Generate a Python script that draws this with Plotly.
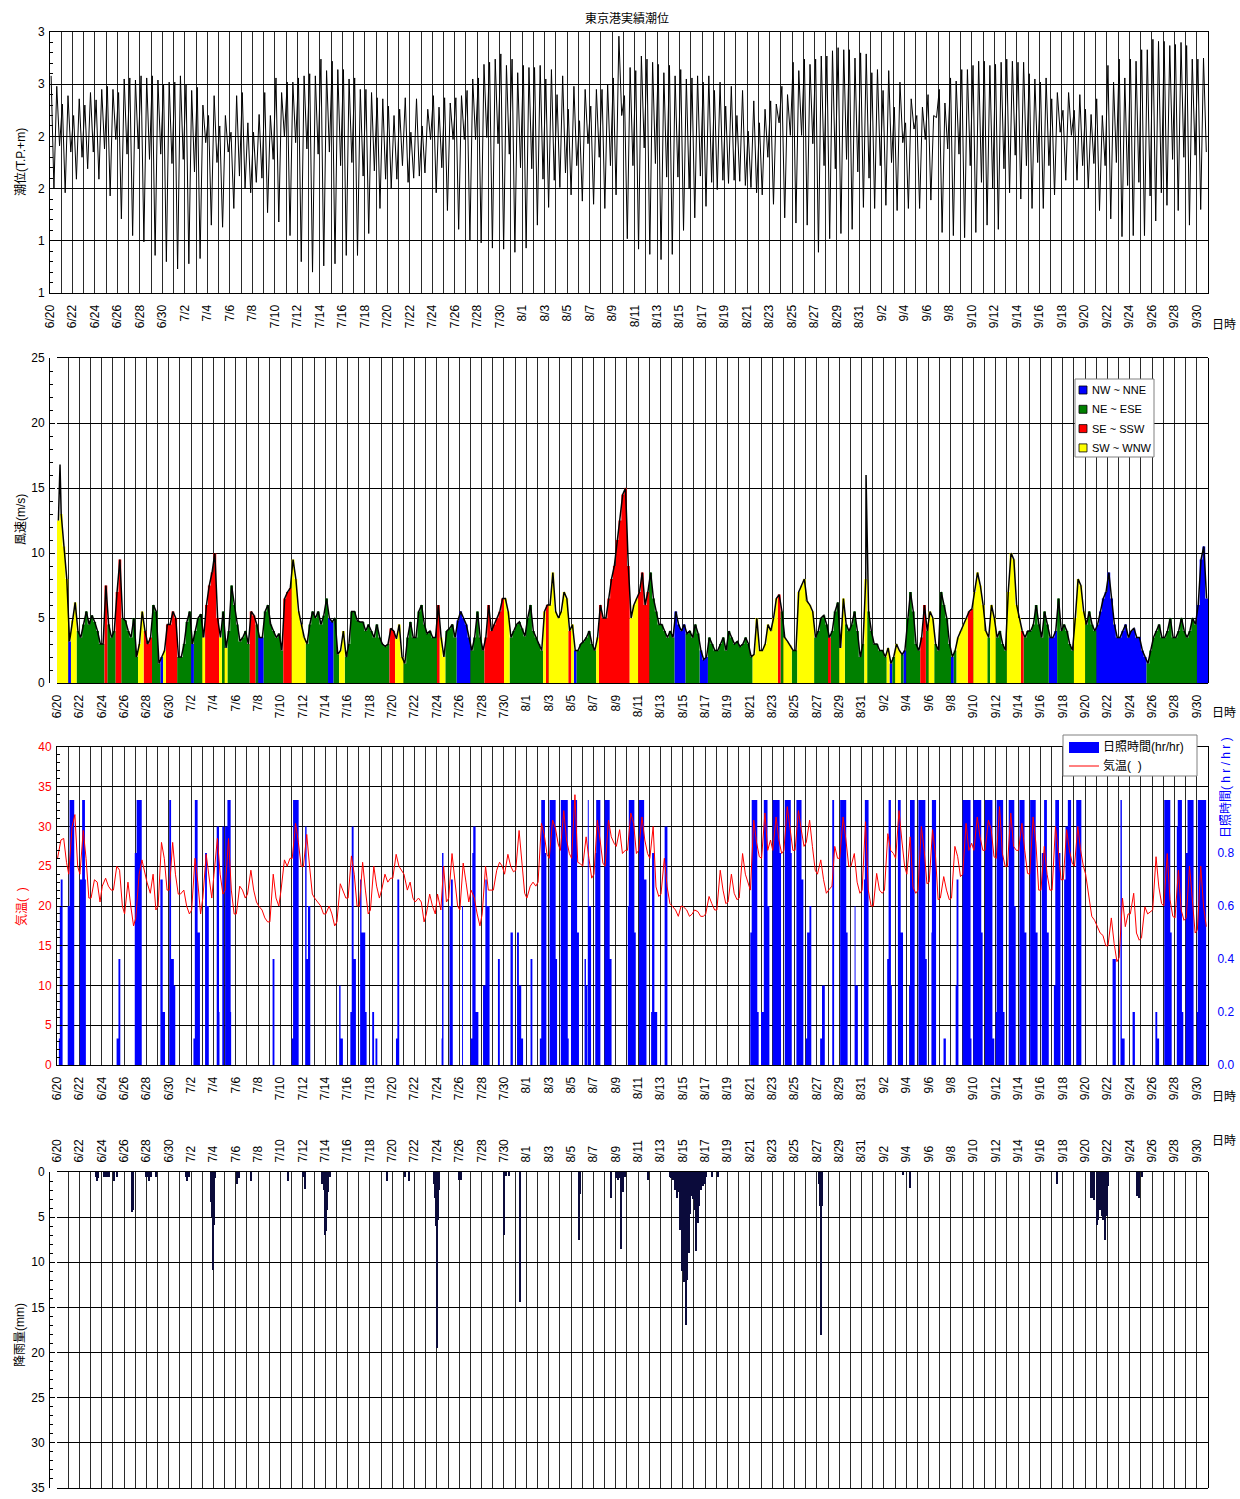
import plotly.graph_objects as go

W, H = 1240, 1499
FONT = "Liberation Sans, Arial, Noto Sans CJK JP, sans-serif"
GRID = "#2a2a2a"

# ---------------- tick labels (x axis: days since 6/20 00:00) ----------------
tick_days = list(range(0, 103, 2))
tick_labels = ["6/20", "6/22", "6/24", "6/26", "6/28", "6/30", "7/2", "7/4", "7/6", "7/8",
               "7/10", "7/12", "7/14", "7/16", "7/18", "7/20", "7/22", "7/24", "7/26", "7/28",
               "7/30", "8/1", "8/3", "8/5", "8/7", "8/9", "8/11", "8/13", "8/15", "8/17",
               "8/19", "8/21", "8/23", "8/25", "8/27", "8/29", "8/31", "9/2", "9/4", "9/6",
               "9/8", "9/10", "9/12", "9/14", "9/16", "9/18", "9/20", "9/22", "9/24", "9/26",
               "9/28", "9/30"]
tide_tickvals = [0.5, 1.0, 1.5, 2.0, 2.5, 3.0]
tide_ticktext = ["1", "1", "2", "2", "3", "3"]

# ---------------- tide (T.P.+m): daily turning points ----------------
tide_high1 = [
    2.58, 2.31, 2.20, 2.30, 2.35, 2.48, 2.42, 2.56, 2.58, 2.58,
    2.50, 2.52, 2.50, 2.47, 2.20, 2.10, 2.04, 2.42, 2.04, 2.42,
    2.56, 2.52, 2.56, 2.60, 2.74, 2.72, 2.64, 2.56, 2.45, 2.37,
    2.29, 2.26, 2.04, 2.10, 2.39, 2.37, 2.37, 2.44, 2.56, 2.71,
    2.79, 2.74, 2.68, 2.66, 2.55, 2.40, 2.26, 2.15, 2.29, 2.45,
    2.56, 2.39, 2.63, 2.74, 2.69, 2.68, 2.64, 2.56, 2.52, 2.44,
    2.29, 2.20, 2.05, 2.13, 2.34, 2.48, 2.71, 2.74, 2.74, 2.77,
    2.85, 2.83, 2.80, 2.61, 2.44, 2.28, 2.13, 2.20, 2.40, 2.45,
    2.56, 2.64, 2.68, 2.72, 2.69, 2.74, 2.71, 2.60, 2.52, 2.36,
    2.25, 2.25, 2.26, 2.36, 2.68, 2.74, 2.74, 2.83, 2.93, 2.91,
    2.88, 2.87, 2.74]
tide_low_deep = [
    1.50, 1.46, 1.59, 1.69, 1.59, 1.43, 1.21, 1.05, 0.99, 0.86,
    0.80, 0.73, 0.78, 0.83, 1.15, 1.13, 1.31, 1.50, 1.56, 1.27,
    1.18, 1.05, 0.80, 0.70, 0.76, 0.78, 0.86, 0.86, 1.07, 1.31,
    1.50, 1.72, 1.60, 1.65, 1.46, 1.29, 1.11, 1.00, 0.98, 0.93,
    0.92, 0.89, 0.93, 1.15, 1.32, 1.51, 1.44, 1.38, 1.35, 1.31,
    1.44, 1.02, 0.92, 0.87, 0.82, 0.87, 1.10, 1.22, 1.33, 1.49,
    1.55, 1.57, 1.51, 1.44, 1.35, 1.22, 1.17, 1.15, 0.89, 1.02,
    1.07, 1.11, 1.32, 1.31, 1.34, 1.29, 1.31, 1.31, 1.39, 1.08,
    1.05, 1.03, 1.08, 1.15, 1.11, 1.46, 1.40, 1.31, 1.31, 1.44,
    1.58, 1.58, 1.50, 1.29, 1.21, 1.04, 1.05, 1.05, 1.19, 1.34,
    1.29, 1.15, 1.30]
tide_high2 = [
    2.48, 2.39, 2.36, 2.42, 2.45, 2.45, 2.55, 2.54, 2.56, 2.54,
    2.52, 2.58, 2.44, 2.30, 2.39, 2.20, 2.39, 2.13, 2.21, 2.20,
    2.42, 2.52, 2.58, 2.58, 2.63, 2.64, 2.55, 2.45, 2.42, 2.36,
    2.20, 2.37, 2.36, 2.26, 2.28, 2.32, 2.39, 2.55, 2.69, 2.74,
    2.68, 2.61, 2.66, 2.68, 2.64, 2.58, 2.48, 2.45, 2.45, 2.50,
    2.96, 2.66, 2.77, 2.71, 2.61, 2.58, 2.55, 2.58, 2.58, 2.52,
    2.48, 2.44, 2.34, 2.26, 2.31, 2.40, 2.63, 2.69, 2.77, 2.82,
    2.83, 2.75, 2.79, 2.64, 2.63, 2.52, 2.36, 2.28, 2.20, 2.32,
    2.53, 2.64, 2.72, 2.68, 2.71, 2.72, 2.71, 2.55, 2.56, 2.42,
    2.42, 2.40, 2.21, 2.20, 2.52, 2.56, 2.72, 2.83, 2.91, 2.87,
    2.90, 2.74, 2.75]
tide_low_shallow = [
    1.91, 1.85, 1.80, 1.85, 1.88, 1.97, 1.83, 1.88, 1.78, 1.83,
    1.74, 1.78, 1.66, 1.94, 1.75, 1.85, 1.62, 1.46, 1.60, 1.78,
    2.00, 1.94, 1.88, 1.83, 1.85, 1.72, 1.75, 1.62, 1.67, 1.59,
    1.59, 1.56, 1.62, 1.97, 1.70, 1.97, 1.97, 1.97, 1.99, 1.93,
    1.83, 1.70, 1.69, 1.59, 1.58, 1.65, 1.72, 1.93, 1.80, 1.72,
    2.20, 1.72, 1.89, 1.74, 1.61, 1.61, 1.50, 1.62, 1.56, 1.58,
    1.58, 1.53, 1.46, 1.80, 2.13, 2.01, 2.01, 1.93, 1.72, 1.69,
    1.78, 1.66, 1.60, 1.72, 1.75, 1.94, 2.07, 1.97, 2.18, 1.88,
    1.83, 1.72, 1.56, 1.50, 1.69, 1.82, 1.72, 1.75, 1.72, 2.04,
    2.01, 1.72, 1.74, 1.72, 1.75, 1.53, 1.56, 1.43, 1.46, 1.78,
    1.80, 1.82, 1.85]
tide_hours = [2.4, 8.4, 14.4, 20.4]   # hour of each turning point in the day

# ---------------- wind speed (m/s), 6-hourly, and direction class ----------------
wind_speed = [
    [12.5, 13, 10.5, 8], [3.2, 4.8, 6.2, 4.0], [3.5, 4.5, 5.5, 4.5], [5.2, 4.7, 4.0, 3.0], [3.0, 7.5, 4.5, 3.5],
    [4.0, 7.0, 9.5, 5.0], [4.8, 4.0, 3.5, 5.0], [2.0, 3.0, 5.5, 4.0], [3.0, 3.5, 6.0, 5.5], [1.5, 2.0, 2.5, 4.5],
    [4.5, 5.5, 5.0, 2.0], [2.0, 3.0, 4.7, 5.5], [3.0, 4.0, 5.0, 5.3], [3.5, 6.0, 7.5, 8.5], [10.0, 5.0, 3.5, 5.5],
    [2.7, 4.0, 7.5, 6.0], [4.5, 3.2, 3.5, 4.0], [3.0, 5.5, 5.2, 4.5], [3.5, 3.5, 5.5, 6.0], [4.5, 4.0, 3.5, 3.8],
    [2.5, 6.5, 7.0, 7.3], [9.5, 8.0, 5.5, 4.5], [3.5, 3.0, 4.5, 5.5], [5.0, 5.5, 4.5, 5.2], [6.5, 5.0, 4.7, 5.0],
    [2.2, 2.5, 4.0, 2.0], [3.0, 5.5, 5.5, 4.8], [4.7, 4.7, 4.0, 4.5], [4.0, 3.5, 4.5, 3.5], [3.0, 2.8, 3.0, 4.2],
    [4.0, 3.4, 4.5, 2.0], [1.5, 3.5, 4.7, 3.5], [3.5, 5.5, 6.0, 4.5], [3.8, 4.0, 3.5, 3.5], [6.0, 3.5, 2.0, 4.0],
    [4.2, 4.5, 3.5, 4.8], [5.5, 5.0, 4.5, 3.5], [2.5, 3.5, 5.5, 3.5], [2.5, 3.5, 6.0, 4.0], [4.5, 5.0, 5.5, 6.5],
    [6.5, 5.5, 3.5, 4.0], [4.5, 4.7, 4.2, 3.6], [5.0, 6.0, 4.0, 3.5], [3.0, 2.5, 5.5, 6.0], [6.0, 8.5, 5.5, 5.0],
    [5.5, 7.0, 6.5, 4.0], [4.5, 2.5, 2.5, 3.0], [3.2, 3.5, 4.0, 3.0], [2.5, 3.5, 6.0, 5.0], [5.0, 6.5, 8.0, 9.0],
    [11.0, 12.5, 14.5, 15.0], [9.0, 5.0, 6.0, 6.5], [7.0, 8.5, 6.0, 7.0], [8.5, 6.5, 5.5, 4.5], [4.5, 4.0, 3.5, 4.0],
    [3.5, 5.5, 4.5, 4.0], [4.5, 3.8, 4.0, 3.5], [4.5, 3.8, 2.5, 1.8], [2.0, 3.5, 3.0, 2.5], [2.5, 3.0, 3.5, 2.5],
    [4.0, 3.5, 3.0, 3.2], [2.8, 3.0, 3.5, 3.0], [2.0, 2.2, 5.0, 2.5], [2.5, 3.0, 4.5, 4.0], [5.0, 6.5, 6.8, 5.5],
    [3.5, 3.2, 2.9, 2.5], [2.5, 7.0, 7.5, 8.0], [6.3, 6.0, 5.5, 3.5], [4.0, 5.0, 5.2, 4.5], [3.5, 4.0, 5.5, 6.2],
    [2.7, 6.5, 4.5, 4.0], [4.5, 5.5, 4.0, 2.0], [3.0, 8.0, 5.5, 4.0], [3.0, 3.0, 2.5, 2.5], [2.0, 2.7, 1.5, 2.0],
    [3.0, 2.5, 2.2, 2.5], [5.0, 7.0, 5.5, 3.0], [2.5, 3.5, 6.0, 4.0], [5.5, 5.0, 3.0, 2.5], [7.0, 6.0, 5.0, 3.0],
    [2.0, 2.5, 3.5, 4.0], [4.5, 5.0, 5.5, 5.7], [7.0, 8.5, 7.5, 6.0], [4.0, 3.5, 6.0, 5.0], [3.5, 4.0, 3.0, 2.5],
    [7.0, 10.0, 9.5, 6.0], [5.0, 4.0, 3.5, 4.0], [4.0, 4.5, 6.0, 4.5], [3.5, 5.5, 4.5, 3.5], [3.5, 4.0, 6.5, 4.0],
    [4.5, 4.0, 3.0, 2.5], [5.0, 8.0, 7.5, 5.5], [4.5, 5.5, 4.5, 4.0], [4.5, 5.5, 6.5, 7.0], [8.5, 6.5, 4.5, 3.5],
    [3.5, 4.0, 4.5, 3.5], [4.0, 4.2, 3.5, 3.5], [2.5, 2.0, 1.5, 2.5], [3.5, 4.0, 4.5, 3.5], [3.5, 4.0, 5.0, 3.5],
    [3.5, 4.0, 5.0, 4.0], [3.5, 4.0, 5.0, 4.5], [6.0, 9.5, 10.5, 6.5]]
wind_dir = [
    "YYYY", "BYYG", "GGGG", "GGGG", "GRGG", "GRRG", "GGGG", "GYYR", "RRGG", "GBYR",
    "RRRG", "GGGG", "BGGG", "YRRR", "RRYG", "YGGG", "GGGG", "GRRG", "BBGG", "GGGG",
    "GRRR", "YYYY", "YGGG", "GGGG", "GBBG", "GYYG", "GGGG", "GGGG", "GGGG", "GGGR",
    "RYYY", "GGGG", "GGGG", "GGGG", "RYYG", "GGGB", "BBBB", "GGGG", "GRRR", "RRRR",
    "YYGG", "GGGG", "GGGG", "GGYR", "YYYY", "YYYR", "YBGG", "GGGG", "GYRR", "RRRR",
    "RRRR", "RYYY", "RRRR", "GGGG", "GGGG", "GBBB", "BGGG", "GGBB", "BGGG", "GGGG",
    "GGGG", "GGGG", "GYYY", "YYYY", "YYRG", "YYYG", "GYYY", "YYYG", "GGGG", "RGGG",
    "YYGG", "GGGG", "GYGG", "GGGG", "GYBG", "YYGB", "GGGG", "GRRG", "YYGG", "GGGG",
    "BGYY", "YYRR", "YYYY", "YGYY", "GGGG", "YYYY", "YRGG", "GGGG", "GGGB", "BBGG",
    "GGGG", "YYYY", "GGGG", "BBBB", "BBBB", "BBBB", "BBBB", "BBGG", "GGGG", "GGGG",
    "GGGG", "GGGG", "BBBB"]
wind_spike_day = [0.27, 72.4]
wind_spike_speed = [16.8, 16.0]
wind_classes = [("B", "NW ~ NNE", "#0000FF"), ("G", "NE ~ ESE", "#008000"),
                ("R", "SE ~ SSW", "#FF0000"), ("Y", "SW ~ WNW", "#FFFF00")]

# ---------------- air temperature (deg C), 4 readings per day ----------------
temp = [
    [26, 28.3, 28.5, 25.5], [24, 30, 31.5, 25], [24, 29.5, 26, 21], [21, 23.3, 23, 20.5], [22.5, 23.5, 22.5, 22],
    [22, 25, 24.5, 20], [19, 23, 20, 17.5], [18.5, 24, 25.8, 24], [23, 21.6, 24, 19.5], [20, 28, 26, 22],
    [22, 28, 24, 21.5], [21.5, 22, 20, 19], [19.5, 26, 23, 19], [21, 26.5, 24, 21], [24, 28.5, 24, 21.5],
    [22, 28.5, 22, 19], [19, 22.5, 22, 21], [21.5, 24.5, 22, 20.5], [20, 19.5, 18.5, 18], [18, 24, 21, 20],
    [22, 25.8, 25, 26], [26, 30.4, 28, 25], [25, 29, 25, 21.5], [21, 20.5, 20, 19], [19, 20, 19, 17.5],
    [18, 22.8, 22, 21], [21, 26.3, 24, 20], [20, 25.5, 22, 19], [19.5, 25, 22.5, 21], [22, 24, 23, 23.5],
    [23.5, 26.5, 25, 24.5], [24, 22, 23, 21], [20.5, 21, 20.5, 18], [19, 21.5, 20, 19], [21.5, 19.5, 25, 20.5],
    [21, 26.6, 23.5, 20], [19.5, 25.4, 23, 20.5], [22, 21, 19, 17.5], [19, 25, 22, 22], [22, 24.5, 25.5, 25],
    [24, 26.5, 25, 24.3], [24.5, 29.5, 26, 21.6], [21, 22.5, 23, 22.5], [23, 30.4, 29, 26.5], [26, 30.8, 29.8, 27.8],
    [27, 32, 28.3, 26.6], [26, 34, 25.5, 25.3], [25, 28.7, 26, 23.5], [24, 30.8, 28.3, 25.4], [25, 30.8, 28.7, 27.9],
    [27.5, 29.6, 26.6, 27], [27, 31.7, 30.4, 26.6], [27, 31.2, 28.3, 26.6], [26, 30, 22.4, 21.2], [21.5, 26, 22.4, 20.3],
    [20, 19.5, 18.7, 20], [19.9, 19.5, 18.7, 19], [19.5, 19.3, 18.7, 18.7], [19, 21.2, 20.3, 19.5], [19.5, 24.5, 22, 20.3],
    [20.5, 24, 21.6, 20.8], [21, 26.6, 24, 22.8], [22, 30.8, 28, 26.2], [26, 31.7, 27, 28.3], [27, 31.2, 28.3, 26.6],
    [27, 32.5, 29.6, 27], [27, 32, 29.6, 27.5], [28, 30.8, 27.5, 24.5], [24, 25.8, 23.3, 21.6], [22, 22.5, 27.5, 26],
    [26, 31.2, 28.3, 25], [25, 26.6, 23, 21.6], [22, 30.6, 22, 20], [20, 24.1, 22, 21.6], [22, 29.1, 27, 26.6],
    [26, 32, 28.3, 25], [24, 28.7, 22.4, 21.6], [22, 30, 27, 22.8], [23, 29.6, 26.6, 20.8], [21, 23.7, 22, 20.8],
    [21, 27.5, 26.2, 23.7], [24, 30.4, 27, 27.9], [27, 31.2, 28.7, 27], [27, 30.8, 29.6, 26.2], [26, 32.5, 26.6, 25],
    [25, 31.7, 27.5, 27], [27, 30.4, 27, 24.1], [24, 31.2, 27.9, 22], [22, 27.5, 24, 22], [22, 30, 27, 23.3],
    [23.3, 29.6, 27, 25.4], [25, 30, 27, 25], [24, 21.2, 18.7, 18.2], [17.5, 16.6, 16.3, 15], [15, 18.5, 15.3, 13],
    [13.5, 21, 17.4, 19], [19, 21.6, 16.6, 15.7], [16, 19.9, 19, 19.3], [19.5, 26.2, 22.4, 20.3], [20, 26.6, 20.8, 18.7],
    [18.5, 24.5, 19.5, 18.2], [18.5, 25, 20.3, 16.6], [17, 25, 20, 17.4]]
temp_hours = [1.2, 8.4, 14.4, 20.4]

# ---------------- sunshine (hr/hr): (day, first hour, last hour, tenths) ----------------
sun_segments = [
    (0, 4, 5, 1), (0, 6, 7, 6), (0, 8, 11, 7), (0, 23, 23, 6), (1, 0, 2, 6), (1, 3, 12, 10),
    (2, 1, 5, 7), (2, 6, 11, 10), (2, 12, 13, 7), (5, 8, 11, 1), (5, 12, 15, 4), (6, 23, 23, 8),
    (7, 0, 2, 8), (7, 3, 13, 10), (9, 6, 10, 7), (9, 11, 15, 2), (10, 1, 4, 10), (10, 5, 10, 4),
    (10, 11, 13, 3), (12, 5, 7, 1), (12, 8, 13, 10), (12, 14, 18, 5), (13, 6, 9, 8), (13, 10, 13, 6),
    (14, 7, 11, 9), (14, 12, 12, 2), (14, 19, 22, 9), (15, 1, 5, 9), (15, 6, 12, 10), (15, 13, 13, 2),
    (19, 7, 10, 4), (21, 0, 2, 1), (21, 3, 14, 10), (22, 5, 7, 9), (22, 8, 10, 4), (22, 11, 15, 6),
    (25, 6, 8, 3), (25, 9, 13, 1), (26, 6, 8, 2), (26, 9, 12, 9), (26, 13, 17, 4), (27, 3, 5, 7),
    (27, 6, 13, 5), (27, 14, 16, 2), (28, 5, 8, 2), (28, 12, 15, 1), (30, 8, 10, 1), (30, 11, 14, 7),
    (34, 10, 10, 1), (34, 11, 13, 8), (35, 3, 5, 6), (35, 6, 9, 7), (36, 6, 7, 6), (37, 0, 3, 1),
    (37, 4, 5, 8), (37, 6, 10, 9), (37, 11, 16, 2), (38, 3, 7, 3), (38, 8, 10, 7), (38, 11, 16, 6),
    (39, 11, 14, 4), (40, 14, 18, 5), (41, 4, 7, 5), (41, 8, 12, 3), (41, 13, 16, 1), (42, 9, 12, 4),
    (43, 5, 7, 1), (43, 8, 15, 10), (43, 16, 18, 8), (44, 2, 14, 10), (44, 15, 17, 4), (45, 2, 16, 10),
    (45, 17, 18, 1), (46, 0, 12, 10), (46, 13, 16, 5), (47, 5, 7, 4), (47, 8, 10, 3), (47, 12, 13, 10),
    (47, 14, 18, 6), (48, 4, 5, 8), (48, 6, 14, 10), (49, 0, 10, 10), (49, 11, 14, 4), (51, 2, 3, 6),
    (51, 4, 15, 10), (51, 16, 18, 5), (52, 2, 12, 10), (52, 13, 17, 7), (53, 4, 5, 2), (53, 6, 10, 8),
    (53, 11, 16, 2), (54, 9, 14, 9), (62, 1, 3, 5), (62, 4, 15, 10), (62, 16, 18, 2), (63, 0, 5, 2),
    (63, 6, 13, 10), (63, 14, 17, 6), (64, 1, 15, 10), (64, 16, 18, 8), (65, 3, 15, 10), (65, 16, 17, 8),
    (66, 4, 14, 10), (66, 15, 18, 7), (67, 0, 2, 1), (67, 3, 7, 5), (67, 8, 11, 6), (68, 7, 10, 1),
    (68, 11, 16, 3), (69, 9, 12, 10), (70, 2, 14, 10), (70, 15, 17, 5), (71, 9, 10, 6), (71, 11, 15, 3),
    (72, 5, 6, 7), (72, 7, 14, 10), (74, 7, 9, 4), (74, 10, 14, 10), (74, 15, 16, 3), (75, 6, 11, 10),
    (75, 12, 16, 5), (76, 6, 7, 3), (76, 8, 17, 10), (77, 2, 16, 10), (77, 17, 19, 4), (78, 6, 6, 5),
    (78, 7, 15, 10), (79, 8, 12, 1), (80, 10, 11, 3), (80, 12, 15, 7), (81, 1, 17, 10), (81, 18, 19, 1),
    (82, 0, 16, 10), (82, 17, 19, 5), (83, 1, 16, 10), (83, 17, 20, 1), (84, 0, 1, 2), (84, 2, 15, 10),
    (84, 16, 18, 2), (85, 4, 15, 10), (85, 16, 18, 6), (86, 3, 13, 10), (86, 14, 17, 5), (87, 2, 13, 10),
    (87, 14, 17, 5), (88, 3, 7, 8), (88, 8, 13, 10), (88, 14, 17, 5), (89, 5, 7, 3), (89, 8, 15, 10),
    (89, 16, 18, 8), (90, 3, 5, 7), (90, 6, 10, 9), (90, 11, 17, 10), (91, 5, 15, 10), (94, 11, 17, 4),
    (95, 4, 6, 10), (95, 7, 12, 1), (96, 6, 10, 2), (98, 7, 10, 2), (98, 11, 14, 1), (99, 2, 14, 10),
    (99, 15, 17, 5), (100, 5, 6, 9), (100, 7, 15, 10), (100, 16, 18, 2), (101, 0, 3, 8), (101, 4, 16, 10),
    (102, 0, 1, 2), (102, 2, 19, 10)]

# ---------------- rainfall (mm) ----------------
rain_day = [3.49, 3.61, 3.70, 4.25, 4.35, 4.45, 4.55, 4.65, 5.13, 5.34, 6.77, 6.83, 7.96, 8.11, 8.26,
            8.41, 8.91, 11.6, 11.69, 11.84, 13.80, 13.92, 13.98, 14.04, 14.13, 16.13, 16.28, 17.35,
            20.69, 22.03, 22.18, 23.76, 23.88, 23.97, 24.06, 24.12, 24.18, 24.27, 24.42, 29.58, 31.13,
            31.54, 33.72, 33.87, 33.96, 34.02, 34.11, 34.2, 35.99, 36.2, 40.0, 40.2, 40.5, 41.47, 46.7,
            46.8, 49.55, 50.06, 50.2, 50.35, 50.5, 50.65, 50.8, 52.9, 54.83, 54.98, 55.13, 55.28, 55.49,
            55.67, 55.79, 55.94, 56.08, 56.23, 56.32, 56.38, 56.53, 56.68, 56.83, 56.95, 57.07, 57.22,
            57.37, 57.51, 57.66, 57.81, 57.96, 58.11, 58.6, 59.2, 68.19, 68.31, 68.4, 68.49, 75.7, 76.35,
            89.5, 92.55, 92.7, 92.85, 93.05, 93.2, 93.35, 93.5, 93.65, 93.8, 93.95, 94.1, 96.66, 96.87,
            97.08]
rain_mm = [0.5, 1.0, 0.7, 0.5, 0.5, 0.5, 0.5, 0.5, 1.0, 0.5, 4.4, 4.2, 0.5, 0.5, 1.0,
           0.5, 0.5, 0.5, 1.0, 0.5, 3.3, 5.0, 10.9, 5.9, 0.7, 1.3, 0.7, 1.0,
           1.0, 0.5, 1.9, 1.3, 2.0, 7.0, 6.5, 5.3, 4.2, 2.2, 0.5, 1.0, 0.5,
           1.0, 1.3, 2.9, 6.0, 19.5, 5.3, 2.0, 0.9, 0.9, 7.0, 0.4, 0.4, 14.4, 7.5,
           2.4, 2.9, 0.7, 0.9, 0.7, 8.5, 2.2, 0.5, 0.9, 0.5, 0.7, 0.9, 2.0, 2.9,
           2.2, 6.4, 11.0, 12.2, 12.2, 16.9, 12.0, 9.0, 4.6, 2.7, 3.0, 4.2, 8.8,
           5.7, 3.8, 2.0, 1.6, 1.3, 0.5, 0.5, 0.5, 1.3, 3.8, 18.0, 3.8, 0.3, 1.8,
           1.3, 2.9, 2.9, 3.1, 5.9, 5.3, 4.2, 4.9, 5.3, 7.5, 4.9, 1.6, 2.7, 2.9,
           0.5]

assert all(len(a) == 103 for a in (tide_high1, tide_low_deep, tide_high2, tide_low_shallow,
                                   wind_speed, wind_dir, temp))
assert len(rain_day) == len(rain_mm)


def xd(l, r):
    return [l / W, r / W]


def yd(b, t):
    return [1 - b / H, 1 - t / H]


fig = go.Figure()

# ---- panel 1: tide ----
tx, ty = [], []
for d in range(103):
    for hh, arr in zip(tide_hours, (tide_high1, tide_low_deep, tide_high2, tide_low_shallow)):
        tx.append(d + hh / 24)
        ty.append(arr[d])
fig.add_trace(go.Scatter(x=tx, y=ty, mode="lines", line=dict(color="black", width=1),
                         xaxis="x", yaxis="y", showlegend=False, hoverinfo="skip"))

# ---- panel 2: wind ----
wx = [d + k * 0.25 for d in range(103) for k in range(4)]
wv = [v for day in wind_speed for v in day]
wc = [c for day in wind_dir for c in day]
for code, name, color in wind_classes:
    yy = [v if c == code else 0 for v, c in zip(wv, wc)]
    fig.add_trace(go.Scatter(x=wx + [103], y=yy + [0], mode="lines",
                             line=dict(width=0, color=color, shape="hv"),
                             fill="tozeroy", fillcolor=color, xaxis="x2", yaxis="y2",
                             showlegend=False, hoverinfo="skip"))
pts = sorted(list(zip([x + 0.125 for x in wx], wv)) + list(zip(wind_spike_day, wind_spike_speed)))
fig.add_trace(go.Scatter(x=[p[0] for p in pts], y=[p[1] for p in pts], mode="lines",
                         line=dict(color="black", width=1.5), xaxis="x2", yaxis="y2",
                         showlegend=False, hoverinfo="skip"))

# ---- panel 3: sunshine + temperature ----
sun = [0.0] * (103 * 24)
for d, h0, h1, t in sun_segments:
    for h in range(h0, h1 + 1):
        sun[d * 24 + h] = t / 10
sx = [i / 24 for i in range(103 * 24)] + [103]
fig.add_trace(go.Scatter(x=sx, y=sun + [0], mode="lines", line=dict(width=0, color="#0000FF", shape="hv"),
                         fill="tozeroy", fillcolor="#0000FF", xaxis="x3", yaxis="y3",
                         showlegend=False, hoverinfo="skip"))
qx, qy = [], []
for d in range(103):
    for hh, v in zip(temp_hours, temp[d]):
        qx.append(d + hh / 24)
        qy.append(v)
fig.add_trace(go.Scatter(x=qx, y=qy, mode="lines", line=dict(color="#FF0000", width=1),
                         xaxis="x3", yaxis="y4", showlegend=False, hoverinfo="skip"))

# ---- panel 4: rainfall ----
fig.add_trace(go.Bar(x=rain_day, y=rain_mm, width=0.12, marker=dict(color="#0b0b3b", line=dict(width=0)),
                     xaxis="x4", yaxis="y5", showlegend=False, hoverinfo="skip"))

xbase = dict(range=[0, 103], tickmode="array", tickvals=tick_days, ticktext=tick_labels, tickangle=-90,
             showgrid=True, gridcolor=GRID, gridwidth=1, showline=True, linecolor="black", linewidth=1,
             mirror=True, ticks="", zeroline=False, tickfont=dict(size=12, color="black", family=FONT),
             ticklabelstandoff=6, automargin=False,
             minor=dict(tickmode="linear", tick0=0, dtick=1, showgrid=True, gridcolor=GRID, gridwidth=1))
ybase = dict(showgrid=True, gridcolor="black", gridwidth=1, showline=True, linecolor="black", linewidth=1,
             mirror=True, ticks="inside", ticklen=5, tickcolor="black", zeroline=False, automargin=False,
             tickfont=dict(size=12, color="black", family=FONT), ticklabelstandoff=2)

fig.update_layout(
    width=W, height=H, margin=dict(l=0, r=0, t=0, b=0, pad=0, autoexpand=False),
    paper_bgcolor="white", plot_bgcolor="white", font=dict(family=FONT, size=12, color="black"),
    bargap=0,
    xaxis=dict(xbase, domain=xd(50, 1208), anchor="y"),
    yaxis=dict(ybase, domain=yd(293, 32), range=[0.5, 3.0], tickmode="array",
               tickvals=tide_tickvals, ticktext=tide_ticktext,
               minor=dict(tickmode="linear", tick0=0.5, dtick=0.1, ticks="inside", ticklen=3,
                          tickcolor="black", showgrid=False)),
    xaxis2=dict(xbase, domain=xd(57, 1208), anchor="y2"),
    yaxis2=dict(ybase, domain=yd(683, 358), range=[0, 25], dtick=5,
                minor=dict(tickmode="linear", tick0=0, dtick=1, ticks="inside", ticklen=3,
                           tickcolor="black", showgrid=False)),
    xaxis3=dict(xbase, domain=xd(57, 1208), anchor="y3"),
    yaxis3=dict(domain=yd(1065, 747), range=[0, 1.2], side="right", anchor="x3", showgrid=False,
                showline=True, linecolor="black", linewidth=1, ticks="", zeroline=False, automargin=False,
                tickmode="array", tickvals=[0, 0.2, 0.4, 0.6, 0.8], tickformat=".1f",
                tickfont=dict(size=12, color="#0000FF", family=FONT), ticklabelstandoff=6),
    yaxis4=dict(ybase, domain=yd(1065, 747), range=[0, 40], dtick=5, overlaying="y3", side="left",
                anchor="x3", mirror=False, tickfont=dict(size=12, color="#FF0000", family=FONT),
                minor=dict(tickmode="linear", tick0=0, dtick=1, ticks="inside", ticklen=3,
                           tickcolor="black", showgrid=False)),
    xaxis4=dict(xbase, domain=xd(57, 1208), anchor="y5", side="top"),
    yaxis5=dict(ybase, domain=yd(1488, 1172), range=[35, 0], dtick=5,
                minor=dict(tickmode="linear", tick0=0, dtick=1, ticks="inside", ticklen=3,
                           tickcolor="black", showgrid=False)),
)


def ann(text, x, y, size=12, color="black", angle=0, xanchor="center"):
    return dict(text=text, x=x / W, y=1 - y / H, xref="paper", yref="paper", showarrow=False,
                font=dict(size=size, color=color, family=FONT), textangle=angle,
                xanchor=xanchor, yanchor="middle")


annotations = [
    ann("東京港実績潮位", 627, 18),
    ann("潮位(T.P.+m)", 21, 162, angle=-90),
    ann("風速(m/s)", 21, 520, angle=-90),
    ann("気温(  )", 21, 907, color="#FF0000", angle=-90),
    ann("降雨量(mm)", 20, 1335, angle=-90),
    ann("日照時間( h r / h r )", 1226, 788, color="#0000FF", angle=-90),
    ann("日時", 1224, 325), ann("日時", 1224, 713), ann("日時", 1224, 1097), ann("日時", 1224, 1141),
]
shapes = []


def rect(x0, y0, x1, y1, fill, line="black", lw=1):
    return dict(type="rect", xref="paper", yref="paper", x0=x0 / W, x1=x1 / W, y0=1 - y0 / H,
                y1=1 - y1 / H, fillcolor=fill, line=dict(color=line, width=lw), layer="above")


# wind legend
shapes.append(rect(1075, 379, 1154, 457, "white", line="#808080"))
for i, (code, name, color) in enumerate(wind_classes):
    cy = 390 + i * 19.3
    shapes.append(rect(1079, cy - 4, 1087, cy + 4, color, lw=0.8))
    annotations.append(ann(name, 1090, cy, size=11, xanchor="left"))
# sunshine / temperature legend
shapes.append(rect(1063, 735, 1197, 776, "white", line="#808080"))
shapes.append(rect(1069, 742, 1099, 753, "#0000FF", line="#0000FF", lw=0))
annotations.append(ann("日照時間(hr/hr)", 1101, 747, size=12, xanchor="left"))
shapes.append(dict(type="line", xref="paper", yref="paper", x0=1069 / W, x1=1099 / W,
                   y0=1 - 766 / H, y1=1 - 766 / H, line=dict(color="#FF0000", width=1), layer="above"))
annotations.append(ann("気温(  )", 1101, 766, size=12, xanchor="left"))

fig.update_layout(annotations=annotations, shapes=shapes)
fig.write_html("out.html")
